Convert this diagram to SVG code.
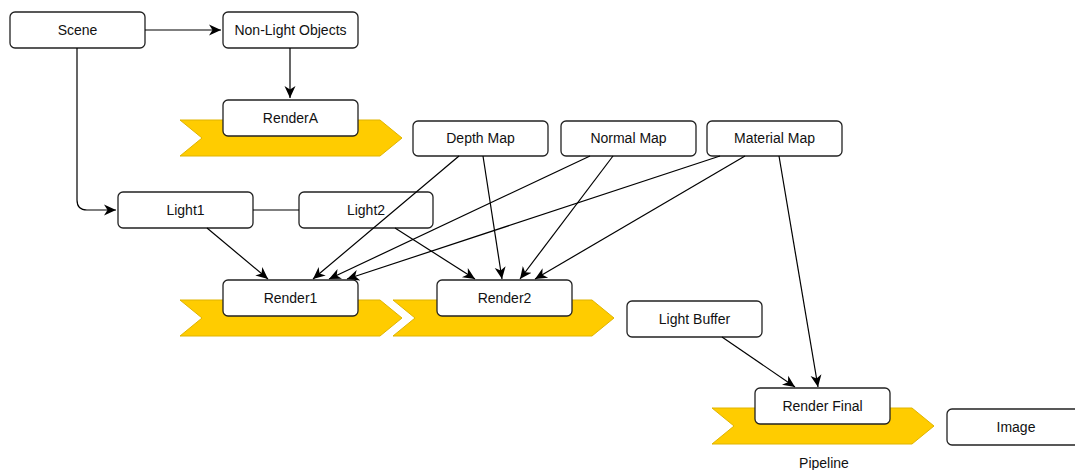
<svg xmlns="http://www.w3.org/2000/svg" width="1075" height="470" viewBox="0 0 1075 470">
<style>
.box{fill:#fff;stroke:#222;stroke-width:1.3}
.chev{fill:#ffcc00;stroke:#e0b400;stroke-width:1}
.lbl{font-family:"Liberation Sans",Arial,sans-serif;font-size:14px;fill:#111;text-anchor:middle}
.edge{fill:none;stroke:#000;stroke-width:1.2}
</style>
<defs>
<marker id="arr" markerWidth="14" markerHeight="14" refX="12" refY="7" orient="auto" markerUnits="userSpaceOnUse">
<path d="M0,1.5 L12,7 L0,12.5 L3.5,7 z" fill="#000"/>
</marker>
</defs>
<rect width="1075" height="470" fill="#fff"/>
<g id="chevrons">
<polygon class="chev" points="180,120 380,120 402,138 380,156 180,156 202,138"/>
<polygon class="chev" points="180,300 380,300 402,318 380,336 180,336 202,318"/>
<polygon class="chev" points="393,300 592,300 614,318 592,336 393,336 415,318"/>
<polygon class="chev" points="712,408 912,408 934,426 912,444 712,444 734,426"/>
</g>
<g id="scene"><rect class="box" x="10" y="12" width="135" height="36" rx="5"/><text class="lbl" x="77.5" y="35">Scene</text></g>
<g id="nonlight"><rect class="box" x="223" y="12" width="135" height="36" rx="5"/><text class="lbl" x="290.5" y="35">Non-Light Objects</text></g>
<g id="renderA"><rect class="box" x="223" y="100" width="135" height="36" rx="5"/><text class="lbl" x="290.5" y="123">RenderA</text></g>
<g id="depth"><rect class="box" x="413" y="121" width="135" height="35" rx="5"/><text class="lbl" x="480.5" y="143">Depth Map</text></g>
<g id="normal"><rect class="box" x="561" y="121" width="135" height="35" rx="5"/><text class="lbl" x="628.5" y="143">Normal Map</text></g>
<g id="material"><rect class="box" x="707" y="121" width="135" height="35" rx="5"/><text class="lbl" x="774.5" y="143">Material Map</text></g>
<g id="light1"><rect class="box" x="118" y="192" width="135" height="36" rx="5"/><text class="lbl" x="185.5" y="215">Light1</text></g>
<g id="light2"><rect class="box" x="299" y="192" width="134" height="36" rx="5"/><text class="lbl" x="366" y="215">Light2</text></g>
<g id="render1"><rect class="box" x="223" y="280" width="135" height="36" rx="5"/><text class="lbl" x="290.5" y="303">Render1</text></g>
<g id="render2"><rect class="box" x="437" y="280" width="135" height="36" rx="5"/><text class="lbl" x="504.5" y="303">Render2</text></g>
<g id="lightbuffer"><rect class="box" x="627" y="301" width="135" height="36" rx="5"/><text class="lbl" x="694.5" y="324">Light Buffer</text></g>
<g id="renderfinal"><rect class="box" x="755" y="388" width="135" height="36" rx="5"/><text class="lbl" x="822.5" y="411">Render Final</text></g>
<g id="image"><rect class="box" x="947" y="409" width="135" height="36" rx="5"/><text class="lbl" x="1016" y="432">Image</text></g>
<g id="pipeline"><text class="lbl" x="824" y="468">Pipeline</text></g>
<g id="connectors">
<path class="edge" d="M145,30 L221,30" marker-end="url(#arr)"/>
<path class="edge" d="M290,48 L290,98" marker-end="url(#arr)"/>
<path class="edge" d="M77,48 L77,200 Q77,210 87,210 L116,210" marker-end="url(#arr)"/>
<path class="edge" d="M253,210 L299,210"/>
<path class="edge" d="M207,228 L268,279" marker-end="url(#arr)"/>
<path class="edge" d="M459,156 L313,279" marker-end="url(#arr)"/>
<path class="edge" d="M590,156 L329,279" marker-end="url(#arr)"/>
<path class="edge" d="M720,156 L347,279" marker-end="url(#arr)"/>
<path class="edge" d="M395,228 L475,279" marker-end="url(#arr)"/>
<path class="edge" d="M483,156 L502,279" marker-end="url(#arr)"/>
<path class="edge" d="M613,156 L520,279" marker-end="url(#arr)"/>
<path class="edge" d="M745,156 L535,279" marker-end="url(#arr)"/>
<path class="edge" d="M779,156 L818,387" marker-end="url(#arr)"/>
<path class="edge" d="M722,337 L795,387" marker-end="url(#arr)"/>
</g>
</svg>
